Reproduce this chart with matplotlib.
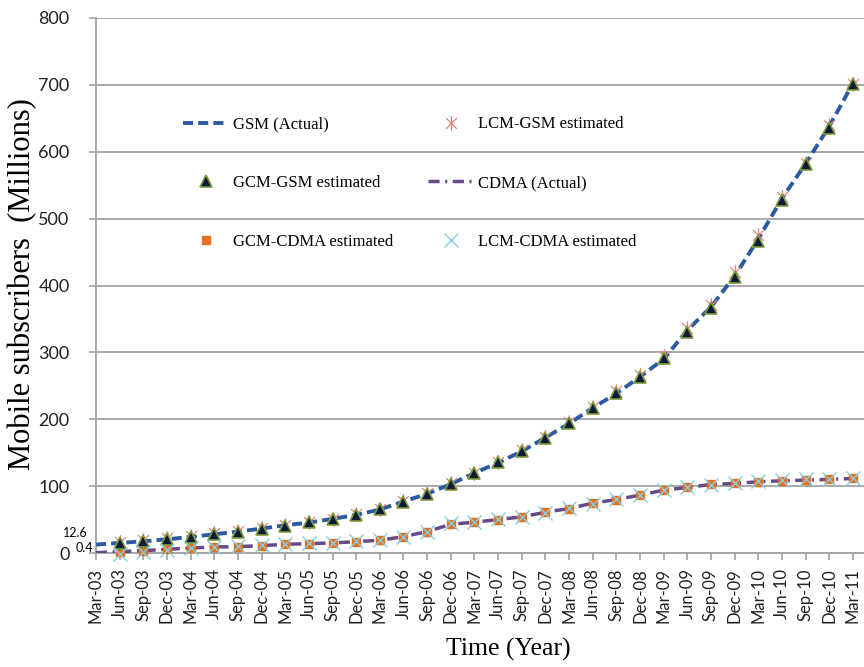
import numpy as np
import matplotlib
matplotlib.use("Agg")
import matplotlib.pyplot as plt
from matplotlib.path import Path

nan = np.nan

# quarterly labels Mar-03 .. Mar-11
quarters = ['Mar', 'Jun', 'Sep', 'Dec']
labels = [f"{q}-{y:02d}" for y in range(3, 11) for q in quarters] + ['Mar-11']

# subscribers in millions
gsm_actual = [12.6, 15.0, 17.5, 20.5, 24.0, 28.0, 32.0, 36.5, 41.5, 45.5, 51.0,
              57.0, 65.0, 77.0, 88.5, 103.0, 119.5, 135.0, 152.0, 172.5, 193.5,
              217.0, 238.5, 263.5, 290.0, 333.0, 368.0, 414.0, 469.5, 530.0,
              582.0, 638.0, 702.0]
gcm_gsm = [nan, 15.5, 17.8, 20.8, 24.2, 28.0, 32.0, 36.3, 41.0, 45.8, 51.0,
           57.5, 65.5, 76.5, 88.0, 103.5, 119.0, 135.5, 152.5, 172.0, 194.0,
           216.5, 239.0, 263.5, 291.0, 331.0, 367.0, 413.0, 467.0, 528.0,
           581.0, 636.0, 701.0]
lcm_gsm = [nan, 17.0, 19.5, 22.5, 26.0, 29.5, 33.5, 37.5, 42.0, 46.5, 51.5,
           58.0, 66.0, 77.5, 89.5, 104.0, 120.0, 136.5, 153.5, 174.0, 195.5,
           218.5, 241.5, 266.0, 294.0, 336.0, 371.0, 420.0, 475.0, 533.0,
           583.0, 640.0, 701.5]
cdma_actual = [0.4, 2.0, 3.5, 5.5, 7.5, 9.0, 9.5, 11.0, 13.0, 14.0, 15.0,
               17.0, 19.0, 24.5, 32.0, 43.0, 46.0, 50.0, 54.0, 61.0, 66.5,
               74.5, 80.0, 86.5, 94.0, 98.0, 102.5, 104.0, 106.5, 108.0,
               109.0, 110.0, 111.5]
gcm_cdma = [nan, 2.0, 3.5, 5.5, 7.5, 9.0, 9.5, 11.0, 13.0, 14.0, 15.0,
            17.0, 19.0, 24.5, 32.0, 43.0, 46.0, 50.0, 54.0, 61.0, 66.5,
            74.5, 80.0, 86.5, 94.0, 98.0, 102.5, 104.0, 106.5, 108.0,
            109.0, 110.0, 111.5]
lcm_cdma = [nan, -1.0, 1.5, 4.5, 7.0, 8.5, 10.0, 11.5, 13.0, 14.5, 15.5,
            17.5, 19.5, 23.5, 31.0, 45.5, 47.0, 50.5, 54.5, 60.5, 67.0,
            73.5, 80.5, 87.0, 94.5, 99.0, 102.0, 104.5, 107.0, 108.5,
            110.0, 111.0, 112.5]

x = np.arange(len(labels))

# excel style star: X plus a vertical bar
star = Path([(0, -1), (0, 1), (-0.75, -0.75), (0.75, 0.75), (-0.75, 0.75), (0.75, -0.75)],
            [Path.MOVETO, Path.LINETO, Path.MOVETO, Path.LINETO, Path.MOVETO, Path.LINETO])

serif = 'Liberation Serif'
sans = 'Lato'

fig = plt.figure(figsize=(8.64, 6.67), dpi=100)
ax = fig.add_axes([96 / 864, 1 - 553 / 667, 1 - 96 / 864, (553 - 18) / 667])

gsm_line, = ax.plot(x, gsm_actual, color='#2C5AA0', lw=2.8, dashes=(2.6, 1.3),
                    label='GSM (Actual)', zorder=3)
cdma_line, = ax.plot(x, cdma_actual, color='#654A8C', lw=2.5, dashes=(3.2, 1.6, 0.6, 1.6),
                     label='CDMA (Actual)', zorder=3)
lcm_g, = ax.plot(x, lcm_gsm, ls='none', marker=star, ms=10.5, mew=0.9, mec='#E6857C',
                 label='LCM-GSM estimated', zorder=4, clip_on=False)
gcm_g, = ax.plot(x, gcm_gsm, ls='none', marker='^', ms=8.5, mfc='#0E1A3A', mec='#7D9B3C',
                 mew=1.2, label='GCM-GSM estimated', zorder=5, clip_on=False)
gcm_c, = ax.plot(x, gcm_cdma, ls='none', marker='s', ms=5.5, mfc='#E2721F', mec='#E2721F',
                 label='GCM-CDMA estimated', zorder=4, clip_on=False)
lcm_c, = ax.plot(x, lcm_cdma, ls='none', marker='x', ms=9.5, mew=1.0, mec='#86CDE0',
                 label='LCM-CDMA estimated', zorder=5, clip_on=False)

ax.set_xlim(0, 32.47)
ax.set_ylim(0, 800)
ax.set_yticks(range(0, 801, 100))
ax.set_xticks(x)
ax.set_xticklabels(labels, rotation=90, fontsize=12, family=sans)
for t in ax.get_yticklabels():
    t.set_fontsize(13)
    t.set_family(sans)

ax.grid(axis='y', color='#A3A3A3', lw=1.3)
ax.set_axisbelow(True)
for s in ['top', 'right']:
    ax.spines[s].set_visible(False)
for s in ['left', 'bottom']:
    ax.spines[s].set_color('#A3A3A3')
    ax.spines[s].set_linewidth(1.3)
ax.tick_params(axis='both', colors='#A3A3A3', length=5, width=1.2, labelcolor='#222222')
ax.tick_params(axis='y', pad=14)
ax.tick_params(axis='x', pad=6)

ax.set_ylabel('Mobile subscribers  (Millions)', family=serif, fontsize=22)
ax.yaxis.set_label_coords(-(96 - 37) / 768, (553 - 284) / 535)
ax.set_xlabel('Time (Year)', family=serif, fontsize=18.5)
ax.xaxis.set_label_coords((508 - 96) / (864 - 96), -0.158)

# data labels at first point
ax.annotate('12.6', (0, gsm_actual[0]), xytext=(-21, 12), textcoords='offset pixels',
            ha='center', va='center', fontsize=9, family=sans, annotation_clip=False)
ax.annotate('0.4', (0, cdma_actual[0]), xytext=(-12, 5), textcoords='offset pixels',
            ha='center', va='center', fontsize=9, family=sans, annotation_clip=False)

handles = [gsm_line, gcm_g, gcm_c, lcm_g, cdma_line, lcm_c]
ax.legend(handles, [h.get_label() for h in handles], ncol=2, frameon=False,
          loc='center', bbox_to_anchor=(410 / 864, 1 - 183 / 667), bbox_transform=fig.transFigure,
          prop={'family': serif, 'size': 12}, labelspacing=2.55, columnspacing=2.1,
          handlelength=2.7, handletextpad=0.3, borderpad=0)

fig.savefig('out.png', dpi=100)
